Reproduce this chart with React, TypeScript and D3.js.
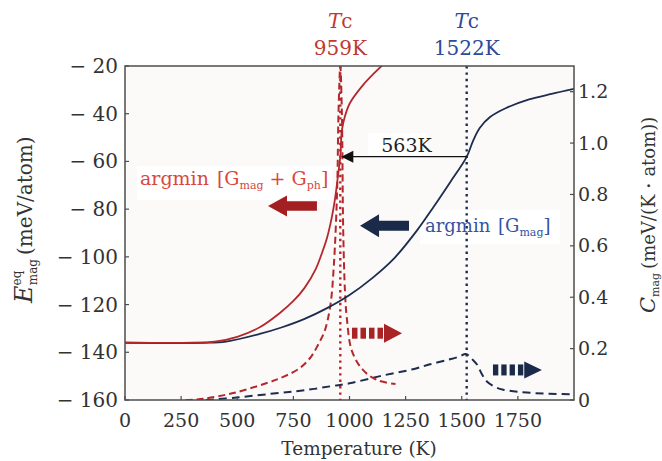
import React from "react";
import * as d3 from "d3";

// ---------- data ----------
const TEMP_TICKS = [0, 250, 500, 750, 1000, 1250, 1500, 1750];
const E_TICKS = [-160, -140, -120, -100, -80, -60, -40, -20];
const C_TICKS = [0, 0.2, 0.4, 0.6, 0.8, 1.0, 1.2];

const TC_PH = 959;
const TC_MAG = 1522;

const redSolidT = [0, 300, 400, 500, 600, 690, 750, 800, 850, 875, 900, 920, 935, 950, 959, 966, 980, 1002, 1060, 1110, 1160];
const redSolidE = [-136, -136, -135.5, -133.5, -129.5, -123.5, -118.5, -113, -105, -99, -92, -84, -76, -65, -58, -47, -41, -35.5, -28, -23, -18.5];

const navySolidT = [0, 350, 450, 600, 700, 800, 900, 1000, 1100, 1200, 1300, 1375, 1450, 1522, 1550, 1580, 1626, 1700, 1800, 1900, 2000];
const navySolidE = [-136, -136, -135.5, -132.3, -129.5, -126, -121.5, -116, -109, -100.5, -89, -79, -68.5, -58.1, -51.5, -46, -41.4, -37.5, -34, -31.7, -29.6];

const redDashT = [270, 350, 482, 632, 705, 780, 830, 860, 890, 915, 930, 945, 951, 959, 966, 972, 980, 988, 1011, 1060, 1122, 1205];
const redDashC = [0, 0.005, 0.027, 0.066, 0.09, 0.125, 0.17, 0.215, 0.27, 0.37, 0.52, 0.82, 1.12, 1.3, 1.12, 0.66, 0.42, 0.32, 0.19, 0.117, 0.078, 0.062];

const navyDashT = [360, 500, 690, 800, 913, 1000, 1136, 1283, 1359, 1440, 1492, 1515, 1530, 1545, 1568, 1590, 1612, 1650, 1685, 1804, 2000];
const navyDashC = [0, 0.01, 0.028, 0.038, 0.053, 0.065, 0.093, 0.12, 0.139, 0.157, 0.17, 0.179, 0.174, 0.16, 0.138, 0.1, 0.072, 0.05, 0.04, 0.028, 0.022];

// annotation anchors in data units
const GAP_LABEL = "563K";
const GAP_E = -58;
const redArrow = { tipT: 637, tailT: 855, e: -78.7 };
const navyArrow = { tipT: 1047, tailT: 1265, e: -87 };
const redDashArrow = { tailT: 1011, tipT: 1234, c: 0.26 };
const navyDashArrow = { tailT: 1639, tipT: 1857, c: 0.117 };

// ---------- layout ----------
const W = 662, H = 461;
const L = 125, R = 574, T = 66, B = 400;

const RED = "#b3282d";
const NAVY = "#1d2c4f";
const FONT = "'DejaVu Serif', serif";

const x = d3.scaleLinear().domain([0, 2000]).range([L, R]);
const yE = d3.scaleLinear().domain([-160, -20]).range([B, T]);
const yC = d3.scaleLinear().domain([0, 1.3]).range([B, T]);

const zip = (a: number[], b: number[]) => a.map((v, i) => [v, b[i]] as [number, number]);

const curve = d3.curveCatmullRom.alpha(0.5);
const lineE = d3.line<[number, number]>().x(d => x(d[0])).y(d => yE(d[1])).curve(curve);
const lineC = d3.line<[number, number]>().x(d => x(d[0])).y(d => yC(d[1])).curve(curve);

function solidArrow(tip: number, tail: number, y: number, hl: number, hh: number, sh: number) {
  const dir = tail > tip ? 1 : -1;
  const b = tip + dir * hl;
  return `M${tip},${y} L${b},${y - hh} L${b},${y - sh} L${tail},${y - sh} L${tail},${y + sh} L${b},${y + sh} L${b},${y + hh} Z`;
}

function DashArrow({ tail, tip, y, color, hh }: { tail: number; tip: number; y: number; color: string; hh: number }) {
  const headLen = (tip - tail) * 0.36;
  const shaftEnd = tip - headLen - 1;
  const n = 4;
  const gap = 3;
  const sw = (shaftEnd - tail - gap * (n - 1)) / n;
  const sh = 5.5;
  return (
    <g fill={color}>
      {d3.range(n).map(i => (
        <rect key={i} x={tail + i * (sw + gap)} y={y - sh} width={sw} height={sh * 2} />
      ))}
      <path d={`M${tip},${y} L${tip - headLen},${y - hh} L${tip - headLen},${y + hh} Z`} />
    </g>
  );
}

export default function App() {
  return (
    <svg width={W} height={H} style={{ position: "absolute", left: 0, top: 0, background: "#fff" }} fontFamily={FONT}>
      <defs>
        <clipPath id="plot">
          <rect x={L} y={T} width={R - L} height={B - T} />
        </clipPath>
      </defs>
      <rect x={L} y={T} width={R - L} height={B - T} fill="#fbfaf8" />

      {/* label boxes */}
      <rect x={137} y={166} width={195} height={34} fill="#fff" />
      <rect x={420} y={210} width={140} height={34} fill="#fff" />
      <rect x={368} y={133} width={60} height={22} fill="#fff" />

      <g clipPath="url(#plot)" fill="none">
        <path d={lineC(zip(navyDashT, navyDashC)) || ""} stroke={NAVY} strokeWidth={2} strokeDasharray="8 5" />
        <path d={lineC(zip(redDashT, redDashC)) || ""} stroke={RED} strokeWidth={2} strokeDasharray="7 4" />
        <path d={lineE(zip(navySolidT, navySolidE)) || ""} stroke={NAVY} strokeWidth={1.8} />
        <path d={lineE(zip(redSolidT, redSolidE)) || ""} stroke={RED} strokeWidth={1.8} />
        <line x1={x(TC_PH)} x2={x(TC_PH)} y1={T} y2={B} stroke={RED} strokeWidth={2.4} strokeDasharray="2.4 4" />
        <line x1={x(TC_MAG)} x2={x(TC_MAG)} y1={T} y2={B} stroke={NAVY} strokeWidth={2.4} strokeDasharray="2.4 4" />
      </g>

      {/* 563K arrow */}
      <line x1={x(TC_MAG)} x2={x(TC_PH) + 10} y1={yE(GAP_E)} y2={yE(GAP_E)} stroke="#111" strokeWidth={1.3} />
      <path d={solidArrow(x(TC_PH) + 1, x(TC_PH) + 13, yE(GAP_E), 12, 6, 0.6)} fill="#111" />
      <text x={(x(TC_PH) + x(TC_MAG)) / 2 + 3} y={yE(GAP_E) - 5} fontSize={19} textAnchor="middle" fill="#222">{GAP_LABEL}</text>

      {/* big arrows */}
      <path d={solidArrow(x(redArrow.tipT), x(redArrow.tailT), yE(redArrow.e), 19, 10.5, 4.8)} fill="#a31f22" />
      <path d={solidArrow(x(navyArrow.tipT), x(navyArrow.tailT), yE(navyArrow.e), 19, 11.5, 5)} fill="#1b2a48" />
      <DashArrow tail={x(redDashArrow.tailT)} tip={x(redDashArrow.tipT)} y={yC(redDashArrow.c)} color="#a82226" hh={9.5} />
      <DashArrow tail={x(navyDashArrow.tailT)} tip={x(navyDashArrow.tipT)} y={yC(navyDashArrow.c)} color="#1b2a48" hh={8.5} />

      {/* legends */}
      <text x={140} y={185} fontSize={19} fill="#d9473c">
        argmin <tspan dx={2}>[G</tspan><tspan fontSize={11} dy={4}>mag</tspan><tspan dy={-4}> + G</tspan><tspan fontSize={11} dy={4}>ph</tspan><tspan dy={-4}>]</tspan>
      </text>
      <text x={425} y={232} fontSize={18} fill="#3552a3">
        argmin <tspan dx={2}>[G</tspan><tspan fontSize={11} dy={4}>mag</tspan><tspan dy={-4}>]</tspan>
      </text>

      {/* Tc labels */}
      <text x={x(TC_PH)} y={28} fontSize={20} textAnchor="middle" fill="#c0392f">
        <tspan fontStyle="italic">T</tspan>c
      </text>
      <text x={x(TC_PH)} y={55} fontSize={20} textAnchor="middle" fill="#c0392f">{TC_PH}K</text>
      <text x={x(TC_MAG)} y={28} fontSize={20} textAnchor="middle" fill="#2d4a9b">
        <tspan fontStyle="italic">T</tspan>c
      </text>
      <text x={x(TC_MAG)} y={55} fontSize={20} textAnchor="middle" fill="#2d4a9b">{TC_MAG}K</text>

      {/* frame */}
      <rect x={L} y={T} width={R - L} height={B - T} fill="none" stroke="#4d4d4d" strokeWidth={1.5} />

      {/* ticks */}
      <g stroke="#4d4d4d" strokeWidth={1.2}>
        {TEMP_TICKS.map(t => <line key={"xt" + t} x1={x(t)} x2={x(t)} y1={B} y2={B - 4} />)}
        {E_TICKS.map(t => <line key={"yt" + t} x1={L} x2={L + 4} y1={yE(t)} y2={yE(t)} />)}
        {C_TICKS.map(t => <line key={"ct" + t} x1={R} x2={R - 4} y1={yC(t)} y2={yC(t)} />)}
      </g>
      <g fill="#333">
        {TEMP_TICKS.map(t => (
          <text key={"xl" + t} x={x(t)} y={427} fontSize={19} textAnchor="middle">{t}</text>
        ))}
        {E_TICKS.map(t => (
          <text key={"yl" + t} x={118} y={yE(t)} dy="0.35em" fontSize={20} textAnchor="end">{"\u2212 " + Math.abs(t)}</text>
        ))}
        {C_TICKS.map(t => (
          <text key={"cl" + t} x={578} y={yC(t)} dy="0.35em" fontSize={19} textAnchor="start">{t === 0 ? "0" : t.toFixed(1)}</text>
        ))}
      </g>

      {/* axis titles */}
      <text x={359} y={455} fontSize={18.5} textAnchor="middle" fill="#333">Temperature (K)</text>
      <text transform="rotate(-90)" x={-303} y={32} fontSize={20} fill="#333">
        <tspan fontStyle="italic" fontSize={24}>E</tspan>
        <tspan fontSize={12} dy={-11}>eq</tspan>
        <tspan fontSize={12} dx={-14.5} dy={16}>mag</tspan>
        <tspan dx={4} dy={-5}>(meV/atom)</tspan>
      </text>
      <text transform="rotate(-90)" x={-313} y={655} fontSize={18} fill="#333">
        <tspan fontStyle="italic" fontSize={21}>C</tspan>
        <tspan fontSize={11} dy={4}>mag</tspan>
        <tspan dx={4} dy={-4}>(meV/(K・atom))</tspan>
      </text>
    </svg>
  );
}
